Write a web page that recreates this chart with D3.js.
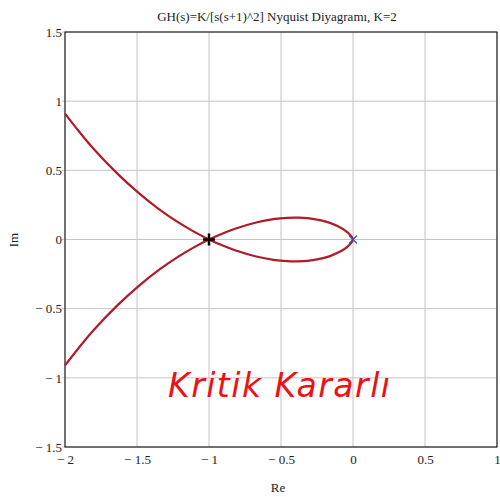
<!DOCTYPE html>
<html>
<head>
<meta charset="utf-8">
<script src="https://cdnjs.cloudflare.com/ajax/libs/d3/7.8.5/d3.min.js"></script>
<style>
  body { margin: 0; background: #fff; }
</style>
</head>
<body>
<div id="chart"></div>
<script>
// Nyquist curve (w > 0 branch and its mirror w < 0)
const reValues = [-2.0, -1.905, -1.802, -1.638, -1.487, -1.348, -1.221, -1.105, -1.0,
  -0.905, -0.819, -0.672, -0.553, -0.457, -0.379, -0.316, -0.223, -0.16, -0.076, -0.04, -0.014, -0.003, 0.0];
const imUpperBranch = [-0.91, -0.784, -0.656, -0.478, -0.335, -0.22, -0.129, -0.057, 0.0,
  0.044, 0.078, 0.123, 0.147, 0.157, 0.158, 0.154, 0.138, 0.12, 0.08, 0.053, 0.026, 0.009, 0.0];
const imLowerBranch = [0.91, 0.784, 0.656, 0.478, 0.335, 0.22, 0.129, 0.057, 0.0,
  -0.044, -0.078, -0.123, -0.147, -0.157, -0.158, -0.154, -0.138, -0.12, -0.08, -0.053, -0.026, -0.009, 0.0];

const xTicks = [-2, -1.5, -1, -0.5, 0, 0.5, 1];
const yTicks = [-1.5, -1, -0.5, 0, 0.5, 1, 1.5];
const criticalPoint = [-1, 0];
const originPoint = [0, 0];

const width = 500, height = 497;
const margin = {left: 65, right: 3, top: 32, bottom: 50};
const serif = '"Liberation Serif", "Times New Roman", serif';

const svg = d3.select('#chart').append('svg')
  .attr('width', width)
  .attr('height', height);

const x = d3.scaleLinear().domain([-2, 1]).range([margin.left, width - margin.right]);
const y = d3.scaleLinear().domain([-1.5, 1.5]).range([height - margin.bottom, margin.top]);

const fmt = d => d < 0 ? '\u2212 ' + Math.abs(d) : String(d);

// grid
svg.append('g').selectAll('line').data(xTicks).enter().append('line')
  .attr('x1', d => x(d)).attr('x2', d => x(d))
  .attr('y1', y(1.5)).attr('y2', y(-1.5))
  .attr('stroke', '#c4c4c4').attr('stroke-width', 1);
svg.append('g').selectAll('line').data(yTicks).enter().append('line')
  .attr('x1', x(-2) - 3).attr('x2', x(1))
  .attr('y1', d => y(d)).attr('y2', d => y(d))
  .attr('stroke', '#c4c4c4').attr('stroke-width', 1);

// frame
svg.append('rect')
  .attr('x', x(-2)).attr('y', y(1.5))
  .attr('width', x(1) - x(-2)).attr('height', y(-1.5) - y(1.5))
  .attr('fill', 'none').attr('stroke', '#000').attr('stroke-width', 1);

// axes (labels only)
const xAxis = svg.append('g')
  .attr('transform', `translate(0,${y(-1.5)})`)
  .call(d3.axisBottom(x).tickValues(xTicks).tickFormat(fmt).tickSize(0).tickPadding(8));
const yAxis = svg.append('g')
  .attr('transform', `translate(${x(-2)},0)`)
  .call(d3.axisLeft(y).tickValues(yTicks).tickFormat(fmt).tickSize(0).tickPadding(3));
[xAxis, yAxis].forEach(a => {
  a.select('.domain').remove();
  a.attr('font-family', null).attr('font-size', null);
  a.selectAll('text').style('font-family', serif)
    .style('font-size', '13px').attr('fill', '#222');
});

// curves
const line = d3.line().x(d => x(d[0])).y(d => y(d[1])).curve(d3.curveCatmullRom);
svg.append('path')
  .datum(reValues.map((r, i) => [r, imUpperBranch[i]]))
  .attr('d', line)
  .attr('fill', 'none').attr('stroke', '#b01a2a').attr('stroke-width', 2.2);
svg.append('path')
  .datum(reValues.map((r, i) => [r, imLowerBranch[i]]))
  .attr('d', line)
  .attr('fill', 'none').attr('stroke', '#b01a2a').attr('stroke-width', 2.2);

// markers
const cx = x(criticalPoint[0]), cy = y(criticalPoint[1]);
svg.append('path')
  .attr('d', `M${cx - 6},${cy}H${cx + 6}M${cx},${cy - 6}V${cy + 6}`)
  .attr('stroke', '#000').attr('stroke-width', 2.5);
const ox = x(originPoint[0]), oy = y(originPoint[1]);
svg.append('path')
  .attr('d', `M${ox - 4},${oy - 4}L${ox + 4},${oy + 4}M${ox - 4},${oy + 4}L${ox + 4},${oy - 4}`)
  .attr('stroke', '#3050b0').attr('stroke-width', 1.2);

// titles
svg.append('text')
  .attr('x', 277).attr('y', 21)
  .attr('text-anchor', 'middle').style('font-family', serif).style('font-size', '13px').attr('fill', '#222')
  .text('GH(s)=K/[s(s+1)^2] Nyquist Diyagramı, K=2');
svg.append('text')
  .attr('x', 278).attr('y', 492)
  .attr('text-anchor', 'middle').style('font-family', serif).style('font-size', '13px').attr('fill', '#222')
  .text('Re');
svg.append('text')
  .attr('transform', 'translate(18,240) rotate(-90)')
  .attr('text-anchor', 'middle').style('font-family', serif).style('font-size', '13px').attr('fill', '#222')
  .text('Im');

// annotation
svg.append('text')
  .attr('x', 168).attr('y', 397)
  .style('font-family', '"DejaVu Sans", Verdana, sans-serif')
  .style('font-style', 'italic')
  .style('font-size', '33px')
  .attr('textLength', 222)
  .attr('fill', '#ee1111')
  .text('Kritik Kararlı');
</script>
</body>
</html>
